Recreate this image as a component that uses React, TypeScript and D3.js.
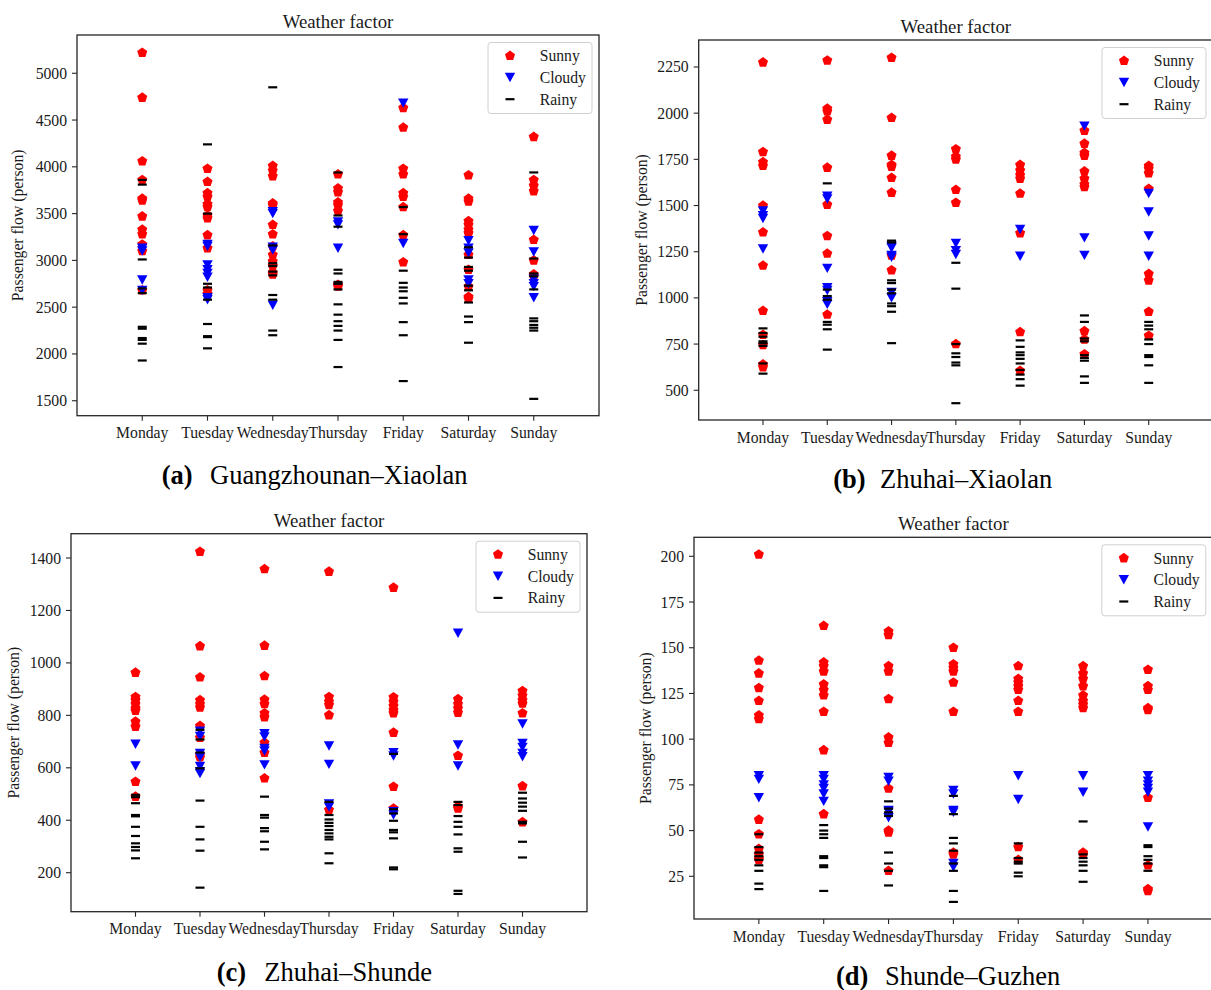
import React from "react";
import * as d3 from "d3";

const DAYS = ["Monday", "Tuesday", "Wednesday", "Thursday", "Friday", "Saturday", "Sunday"];
const WEATHER = ["Sunny", "Cloudy", "Rainy"];

// Panel (a) Guangzhounan–Xiaolan
const aSunny = [
  [5220, 4740, 4060, 3860, 3660, 3640, 3470, 3330, 3280, 3170, 3100, 2680],
  [3980, 3840, 3720, 3680, 3600, 3570, 3480, 3450, 3270, 3130, 2680, 2640],
  [4010, 3960, 3900, 3610, 3590, 3380, 3280, 3150, 3060, 2990, 2940, 2870, 2850],
  [3920, 3770, 3730, 3620, 3590, 3530, 2740, 2720],
  [4630, 4420, 3980, 3920, 3720, 3680, 3570, 3270, 2980],
  [3910, 3660, 3630, 3420, 3380, 3330, 3290, 3060, 2900, 2720, 2610, 2590],
  [4320, 3860, 3800, 3740, 3220, 3000, 2850, 2830],
];
const aCloudy = [
  [3130, 3100, 2790, 2680],
  [3170, 3150, 2950, 2900, 2860, 2820, 2600, 2580],
  [3520, 3500, 3140, 3110, 2520],
  [3410, 3380, 3130],
  [4680, 3180],
  [3210, 3130, 3080, 2790, 2750],
  [3320, 3090, 2800, 2750, 2720, 2600],
];
const aRainy = [
  [3860, 3810, 3010, 2700, 2650, 2290, 2270, 2170, 2150, 2110, 1930],
  [4240, 3500, 2750, 2710, 2580, 2320, 2190, 2180, 2060],
  [4850, 3160, 2970, 2940, 2880, 2840, 2630, 2580, 2250, 2200],
  [3940, 3480, 3360, 2900, 2860, 2770, 2750, 2690, 2530, 2420, 2350, 2300, 2250, 2150, 1860],
  [3570, 3280, 2890, 2760, 2710, 2670, 2600, 2540, 2340, 2200, 1710],
  [3140, 3030, 2930, 2890, 2730, 2680, 2550, 2400, 2340, 2120],
  [3940, 3020, 2860, 2830, 2690, 2380, 2350, 2310, 2280, 2250, 1520],
];
const aTicks = [1500, 2000, 2500, 3000, 3500, 4000, 4500, 5000];

// Panel (b) Zhuhai–Xiaolan
const bSunny = [
  [2275, 1790, 1735, 1715, 1500, 1355, 1175, 930, 800, 745, 640, 625],
  [2285, 2025, 2010, 1965, 1705, 1505, 1335, 1240, 910],
  [2300, 1975, 1770, 1720, 1710, 1650, 1570, 1230, 1150],
  [1805, 1765, 1750, 1585, 1515, 750],
  [1720, 1690, 1665, 1645, 1565, 1350, 815, 605],
  [1905, 1835, 1785, 1770, 1685, 1645, 1615, 1600, 820, 775, 695],
  [1715, 1700, 1675, 1590, 1130, 1095, 925, 795],
];
const bCloudy = [
  [1470, 1445, 1430, 1265],
  [1550, 1535, 1160, 1055, 1040, 980, 965],
  [1280, 1270, 1230, 1220, 1030, 1000],
  [1295, 1255, 1235],
  [1370, 1225],
  [1930, 1325, 1230],
  [1565, 1465, 1335, 1225],
];
const bRainy = [
  [835, 810, 790, 765, 755, 740, 645, 590],
  [1620, 1045, 1010, 990, 870, 855, 830, 720],
  [1310, 1300, 1095, 1080, 1045, 1025, 970, 955, 925, 755],
  [1190, 1050, 750, 700, 680, 650, 635, 430],
  [770, 735, 705, 690, 670, 645, 610, 585, 560, 525],
  [905, 870, 780, 765, 690, 675, 660, 575, 540],
  [870, 850, 830, 775, 750, 690, 680, 635, 540],
];
const bTicks = [500, 750, 1000, 1250, 1500, 1750, 2000, 2250];

// Panel (c) Zhuhai–Shunde
const cSunny = [
  [963, 870, 858, 843, 827, 818, 776, 757, 547, 490],
  [1424, 1064, 945, 858, 843, 830, 760, 715, 650, 640],
  [1358, 1066, 950, 860, 843, 808, 793, 696, 658, 560],
  [1348, 870, 852, 840, 801, 440],
  [1287, 869, 852, 836, 820, 808, 734, 528, 445],
  [862, 843, 827, 810, 646, 452, 445],
  [893, 875, 858, 845, 808, 530, 393],
];
const cCloudy = [
  [690, 607],
  [740, 720, 655, 640, 605, 585, 578],
  [730, 718, 674, 664, 611],
  [683, 613, 462, 450],
  [658, 645, 433, 420],
  [1113, 687, 607],
  [767, 693, 678, 655, 642],
];
const cRainy = [
  [497, 488, 465, 420, 415, 375, 340, 312, 298, 285, 255],
  [745, 708, 658, 598, 475, 375, 327, 284, 143],
  [490, 420, 410, 370, 358, 318, 289],
  [470, 420, 403, 390, 378, 363, 350, 337, 327, 274, 236],
  [653, 442, 426, 398, 363, 354, 331, 220, 213],
  [470, 458, 416, 394, 375, 346, 293, 280, 131, 119],
  [505, 483, 467, 452, 436, 394, 388, 318, 258],
];
const cTicks = [200, 400, 600, 800, 1000, 1200, 1400];

// Panel (d) Shunde–Guzhen
const dSunny = [
  [201, 143, 136, 128, 121, 113, 111, 56, 48, 40, 37, 35, 34],
  [162, 142, 140, 137, 130, 127, 124, 115, 94, 59],
  [159, 157, 140, 137, 122, 101, 98, 73, 50, 49, 28],
  [150, 141, 139, 137, 131, 115, 38, 37],
  [140, 133, 131, 129, 127, 121, 115, 41, 34],
  [140, 136, 133, 129, 124, 121, 119, 117, 38, 37],
  [138, 129, 127, 117, 116, 68, 31, 18, 17],
];
const dCloudy = [
  [80, 78, 68],
  [80, 78, 75, 73, 70, 66],
  [79, 77, 61, 60, 57],
  [72, 70, 61, 60, 32, 30],
  [80, 67],
  [80, 71],
  [80, 77, 75, 73, 71, 52],
];
const dRainy = [
  [48, 41, 38, 36, 34, 31, 28, 21, 18],
  [53, 50, 48, 46, 36, 35, 31, 30, 17],
  [66, 62, 60, 58, 38, 32, 28, 20],
  [69, 59, 46, 43, 39, 32, 28, 17, 11],
  [43, 35, 33, 32, 27, 25],
  [55, 37, 35, 33, 31, 28, 22],
  [42, 41, 36, 34, 32, 28],
];
const dTicks = [25, 50, 75, 100, 125, 150, 175, 200];

const FONT = "'Liberation Serif', 'Times New Roman', serif";
const COLORS = ["#ff0000", "#0000ff", "#000000"];

function pentagonPath(r: number) {
  const p = d3.path();
  for (let k = 0; k < 5; k++) {
    const a = -Math.PI / 2 + (k * 2 * Math.PI) / 5;
    const x = r * Math.cos(a);
    const y = r * Math.sin(a);
    if (k === 0) p.moveTo(x, y);
    else p.lineTo(x, y);
  }
  p.closePath();
  return p.toString();
}
function triDownPath(hw: number, h: number) {
  const p = d3.path();
  p.moveTo(-hw, -h / 2);
  p.lineTo(hw, -h / 2);
  p.lineTo(0, h / 2);
  p.closePath();
  return p.toString();
}
const PENT = pentagonPath(5.3);
const TRI = triDownPath(5.2, 9.4);

function Marker({ kind, x, y }: { kind: number; x: number; y: number }) {
  if (kind === 0) return <path d={PENT} transform={`translate(${x},${y})`} fill={COLORS[0]} />;
  if (kind === 1) return <path d={TRI} transform={`translate(${x},${y})`} fill={COLORS[1]} />;
  return <line x1={x - 4.5} x2={x + 4.5} y1={y} y2={y} stroke={COLORS[2]} strokeWidth={2.2} />;
}

type PanelProps = {
  left: number;
  right: number;
  top: number;
  bottom: number;
  yDomain: [number, number];
  ticks: number[];
  series: number[][][];
  ylabelOffset: number;
  caption: [string, string];
  capX: [number, number];
  capY: number;
};

function Panel(p: PanelProps) {
  const x = d3.scaleLinear().domain([-1, 7]).range([p.left, p.right]);
  const y = d3.scaleLinear().domain(p.yDomain).range([p.bottom, p.top]);
  const cx = (p.left + p.right) / 2;
  const cy = (p.top + p.bottom) / 2;
  const legW = 104;
  const legH = 71;
  const legX = p.right - 7 - legW;
  const legY = p.top + 7.5;
  return (
    <g>
      {p.series.map((days, si) => (
        <g key={si}>
          {days.map((vals, di) =>
            vals.map((v, vi) => <Marker key={`${di}-${vi}`} kind={si} x={x(di)} y={y(v)} />)
          )}
        </g>
      ))}
      <rect x={p.left} y={p.top} width={p.right - p.left} height={p.bottom - p.top} fill="none" stroke="#262626" strokeWidth={1.3} />
      {p.ticks.map((t) => (
        <g key={t}>
          <line x1={p.left - 5} x2={p.left} y1={y(t)} y2={y(t)} stroke="#262626" strokeWidth={1.1} />
          <text x={p.left - 10} y={y(t)} dy="0.35em" textAnchor="end" fontSize={15.7} fontFamily={FONT} fill="#1a1a1a">
            {t}
          </text>
        </g>
      ))}
      {DAYS.map((d, i) => (
        <g key={d}>
          <line x1={x(i)} x2={x(i)} y1={p.bottom} y2={p.bottom + 5} stroke="#262626" strokeWidth={1.1} />
          <text x={x(i)} y={p.bottom + 22.5} textAnchor="middle" fontSize={15.7} fontFamily={FONT} fill="#1a1a1a">
            {d}
          </text>
        </g>
      ))}
      <text x={cx} y={p.top - 7} textAnchor="middle" fontSize={18.8} fontFamily={FONT} fill="#1a1a1a">
        Weather factor
      </text>
      <text
        transform={`translate(${p.left - p.ylabelOffset},${cy}) rotate(-90)`}
        textAnchor="middle"
        fontSize={15.7}
        fontFamily={FONT}
        fill="#1a1a1a"
      >
        Passenger flow (person)
      </text>
      <g>
        <rect x={legX} y={legY} width={legW} height={legH} rx={3} fill="#ffffff" fillOpacity={0.85} stroke="#d0d0d0" strokeWidth={1} />
        {WEATHER.map((w, i) => {
          const ry = legY + 13.3 + i * 21.7;
          return (
            <g key={w}>
              <Marker kind={i} x={legX + 22} y={ry} />
              <text x={legX + 51.7} y={ry} dy="0.35em" fontSize={15.7} fontFamily={FONT} fill="#1a1a1a">
                {w}
              </text>
            </g>
          );
        })}
      </g>
      <text x={p.capX[0]} y={p.capY} fontSize={26.5} fontWeight="bold" fontFamily={FONT} fill="#000">
        {p.caption[0]}
      </text>
      <text x={p.capX[1]} y={p.capY} fontSize={26.5} fontFamily={FONT} fill="#000">
        {p.caption[1]}
      </text>
    </g>
  );
}

export default function App() {
  return (
    <svg
      width={1211}
      height={990}
      viewBox="0 0 1211 990"
      style={{ position: "absolute", left: 0, top: 0, background: "#fff" }}
    >
      <rect x={0} y={0} width={1211} height={990} fill="#fff" />
      <Panel
        left={77}
        right={599}
        top={35}
        bottom={415.7}
        yDomain={[1340, 5409]}
        ticks={aTicks}
        series={[aSunny, aCloudy, aRainy]}
        ylabelOffset={53.7}
        caption={["(a)", "Guangzhounan–Xiaolan"]}
        capX={[161.7, 210]}
        capY={484}
      />
      <Panel
        left={698.7}
        right={1213}
        top={40}
        bottom={420}
        yDomain={[339, 2396]}
        ticks={bTicks}
        series={[bSunny, bCloudy, bRainy]}
        ylabelOffset={51.4}
        caption={["(b)", "Zhuhai–Xiaolan"]}
        capX={[833.3, 880]}
        capY={488}
      />
      <Panel
        left={71}
        right={587}
        top={533.7}
        bottom={911.7}
        yDomain={[51.3, 1492.7]}
        ticks={cTicks}
        series={[cSunny, cCloudy, cRainy]}
        ylabelOffset={51.7}
        caption={["(c)", "Zhuhai–Shunde"]}
        capX={[216.7, 264.3]}
        capY={981}
      />
      <Panel
        left={694}
        right={1212.8}
        top={537.3}
        bottom={919}
        yDomain={[1.65, 210.4]}
        ticks={dTicks}
        series={[dSunny, dCloudy, dRainy]}
        ylabelOffset={43.4}
        caption={["(d)", "Shunde–Guzhen"]}
        capX={[836, 885]}
        capY={985}
      />
    </svg>
  );
}
